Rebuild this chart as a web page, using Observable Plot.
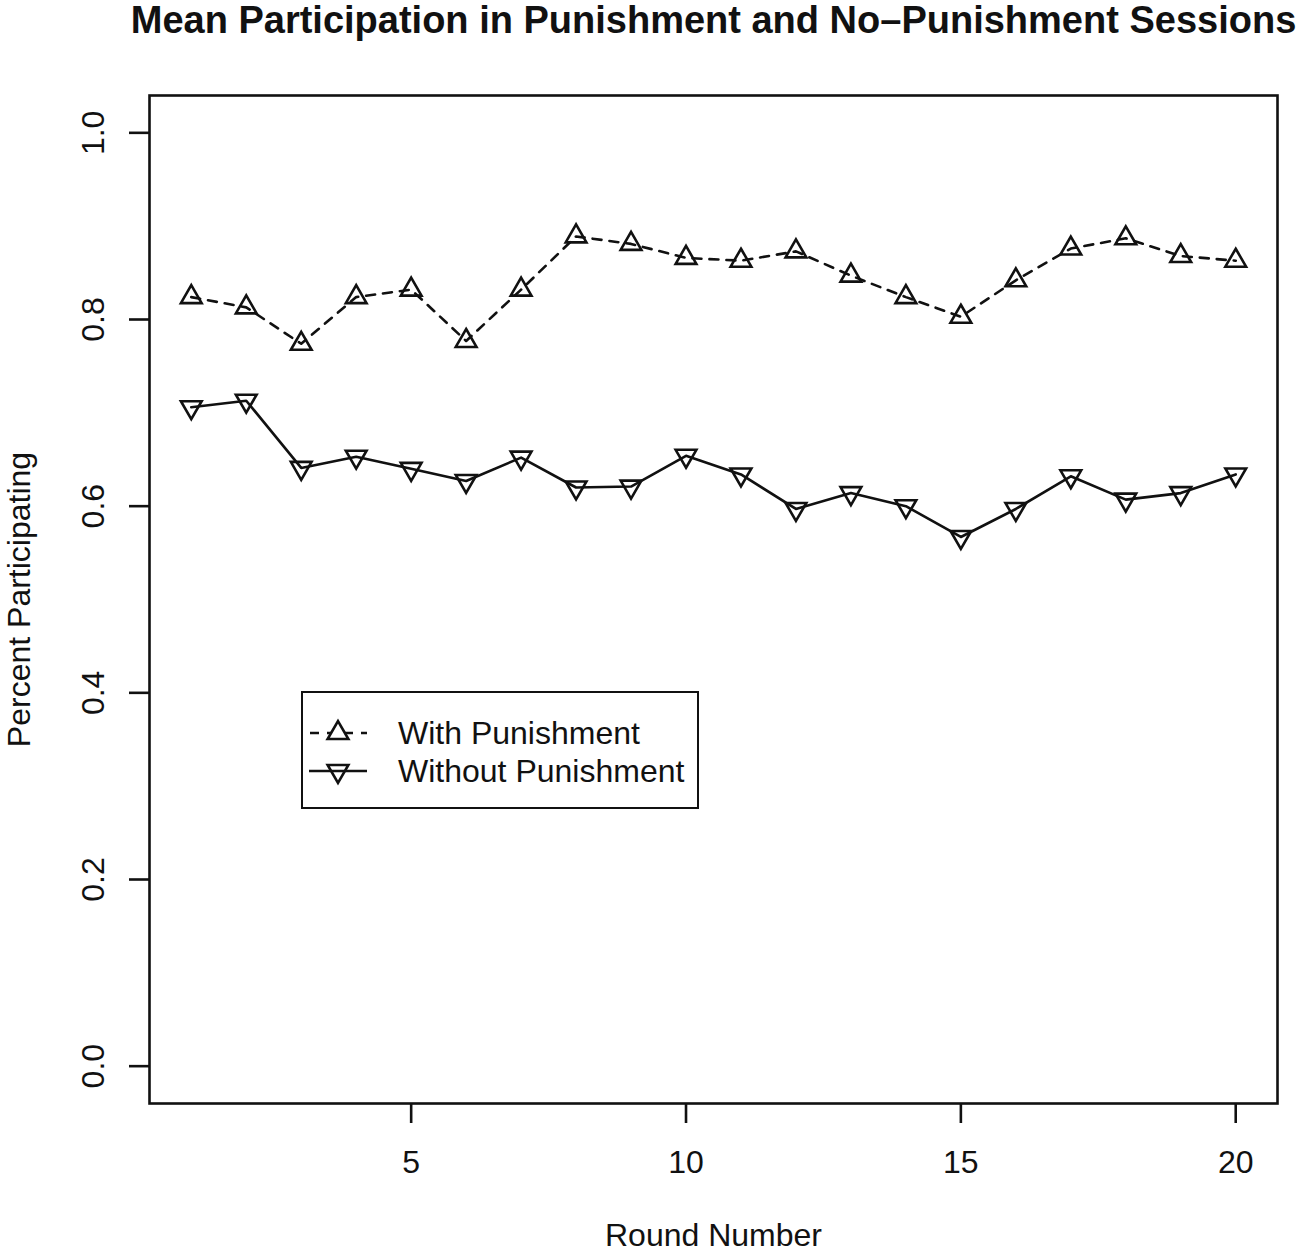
<!DOCTYPE html>
<html>
<head>
<meta charset="utf-8">
<script src="https://cdn.jsdelivr.net/npm/d3@7"></script>
<script src="https://cdn.jsdelivr.net/npm/@observablehq/plot@0.6"></script>
<style>
  html, body { margin: 0; padding: 0; background: #fff; }
  #wrap { position: relative; width: 1296px; height: 1252px; font-family: "Liberation Sans", Arial, Helvetica, sans-serif; }
  #legend { position: absolute; left: 301px; top: 691px; width: 398px; height: 118px; box-sizing: border-box; border: 2.5px solid #111; background: #fff; }
  #legend svg { position: absolute; left: -2.5px; top: -2.5px; }
</style>
</head>
<body>
<div id="wrap"></div>
<script>
// ---- data ----
const rounds = [1, 2, 3, 4, 5, 6, 7, 8, 9, 10, 11, 12, 13, 14, 15, 16, 17, 18, 19, 20];
const withPunishment = [0.824, 0.813, 0.774, 0.824, 0.832, 0.777, 0.832, 0.889, 0.881, 0.866,
                        0.863, 0.873, 0.847, 0.824, 0.803, 0.842, 0.876, 0.887, 0.868, 0.863];
const withoutPunishment = [0.706, 0.713, 0.641, 0.653, 0.640, 0.627, 0.652, 0.620, 0.621, 0.654,
                           0.634, 0.597, 0.614, 0.600, 0.567, 0.597, 0.632, 0.607, 0.614, 0.634];
const seriesNames = ["With Punishment", "Without Punishment"];
const xTicks = [5, 10, 15, 20];
const yTicks = [0, 0.2, 0.4, 0.6, 0.8, 1.0];
const titleText = "Mean Participation in Punishment and No\u2013Punishment Sessions";
const xLabel = "Round Number";
const yLabel = "Percent Participating";

const withData = rounds.map((r, i) => ({round: r, value: withPunishment[i]}));
const withoutData = rounds.map((r, i) => ({round: r, value: withoutPunishment[i]}));

// R-style triangles, centred on the centroid
const S3 = Math.sqrt(3);
const triUp = {draw(ctx, size) {
  const y = Math.sqrt(size / (3 * S3));
  ctx.moveTo(0, -2 * y); ctx.lineTo(S3 * y, y); ctx.lineTo(-S3 * y, y); ctx.closePath();
}};
const triDown = {draw(ctx, size) {
  const y = Math.sqrt(size / (3 * S3));
  ctx.moveTo(0, 2 * y); ctx.lineTo(S3 * y, -y); ctx.lineTo(-S3 * y, -y); ctx.closePath();
}};

const INK = "#111";
const LW = 2.6;
const FONT = "'Liberation Sans', Arial, Helvetica, sans-serif";

const chart = Plot.plot({
  width: 1296,
  height: 1252,
  marginLeft: 149,
  marginRight: 19,
  marginTop: 95,
  marginBottom: 149,
  style: {fontFamily: FONT, fontSize: "32px", color: INK, background: "#fff"},
  x: {domain: [0.24, 20.76]},
  y: {domain: [-0.04, 1.04]},
  marks: [
    Plot.frame({stroke: INK, strokeWidth: LW}),
    Plot.axisX({ticks: xTicks, tickSize: 20, tickPadding: 27, strokeWidth: LW, stroke: INK, fill: INK, label: null, fontSize: 32, tickFormat: d3.format("d")}),
    Plot.axisY({ticks: yTicks, tickSize: 20, tickPadding: 26, tickRotate: -90, strokeWidth: LW, stroke: INK, fill: INK, label: null, fontSize: 32, tickFormat: d3.format(".1f")}),
    Plot.line(withData, {x: "round", y: "value", stroke: INK, strokeWidth: LW, strokeDasharray: "9,8"}),
    Plot.dot(withData, {x: "round", y: "value", symbol: triUp, r: 7.7, stroke: INK, fill: "none", strokeWidth: LW}),
    Plot.line(withoutData, {x: "round", y: "value", stroke: INK, strokeWidth: LW}),
    Plot.dot(withoutData, {x: "round", y: "value", symbol: triDown, r: 7.7, stroke: INK, fill: "none", strokeWidth: LW}),
    Plot.text([titleText], {text: d => d, frameAnchor: "top", dy: -63, lineAnchor: "bottom", fontSize: 38, fontWeight: "bold", fill: INK}),
    Plot.text([xLabel], {text: d => d, frameAnchor: "bottom", dy: 142, lineAnchor: "bottom", textAnchor: "middle", fontSize: 32, fill: INK}),
    Plot.text([yLabel], {text: d => d, frameAnchor: "left", dx: -120, rotate: -90, lineAnchor: "bottom", textAnchor: "middle", fontSize: 32, fill: INK})
  ]
});

const wrap = document.getElementById("wrap");
wrap.appendChild(chart);

// ---- legend (layout overlay) ----
const symPath = (sym) => d3.symbol(sym, 7.7 * 7.7 * Math.PI)();
const legend = document.createElement("div");
legend.id = "legend";
legend.innerHTML = `
<svg width="398" height="118" xmlns="http://www.w3.org/2000/svg" style="font-family:${FONT};font-size:32px">
  <line x1="8" x2="66" y1="42" y2="42" stroke="${INK}" stroke-width="${LW}" stroke-dasharray="9,8" stroke-dashoffset="-1"/>
  <path d="${symPath(triUp)}" transform="translate(37,42)" fill="#fff" stroke="${INK}" stroke-width="${LW}"/>
  <text x="97" y="53" fill="${INK}">${seriesNames[0]}</text>
  <line x1="8" x2="66" y1="80" y2="80" stroke="${INK}" stroke-width="${LW}"/>
  <path d="${symPath(triDown)}" transform="translate(37,80)" fill="none" stroke="${INK}" stroke-width="${LW}"/>
  <text x="97" y="91" fill="${INK}">${seriesNames[1]}</text>
</svg>`;
wrap.appendChild(legend);
</script>
</body>
</html>
